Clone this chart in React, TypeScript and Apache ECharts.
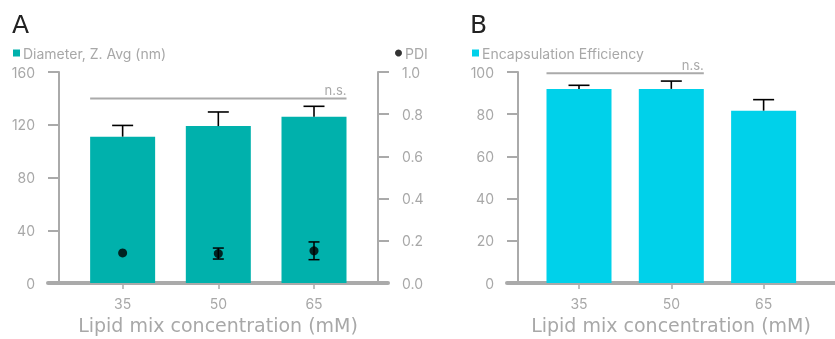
import React, { useEffect, useRef } from "react";
import * as echarts from "echarts";

const categories = [35, 50, 65];
const diameter = [111, 119, 126];
const diameterErr = [8.5, 10.7, 8];
const pdi = [0.143, 0.14, 0.153];
const pdiErr = [0.004, 0.026, 0.042];
const encapsulation = [92, 92, 81.7];
const encapsulationErr = [1.7, 3.7, 5.2];
const leftTicksA = [0, 40, 80, 120, 160];
const rightTicksA = [0, 0.2, 0.4, 0.6, 0.8, 1.0];
const ticksB = [0, 20, 40, 60, 80, 100];

const TEAL = "#00B1AC";
const CYAN = "#00D1EA";
const GRAY = "#aaaaaa";
const LABEL = "#a8a8a8";
const FONT = "Inter";
const WIDE = "DejaVu Sans";
const BAR_W = 65;

export default function App() {
  const ref = useRef<HTMLDivElement>(null);
  useEffect(() => {
    const chart = echarts.init(ref.current!, null, { renderer: "svg" });

    const upperErr = (cap: number, lw: number) => (params: any, api: any) => {
      const x = api.value(0), y = api.value(1), e = api.value(2);
      const p0 = api.coord([x, y]);
      const p1 = api.coord([x, y + e]);
      return {
        type: "group",
        children: [
          { type: "line", shape: { x1: p0[0], y1: p0[1], x2: p1[0], y2: p1[1] }, style: { stroke: "#000", lineWidth: lw } },
          { type: "line", shape: { x1: p1[0] - cap / 2, y1: p1[1], x2: p1[0] + cap / 2, y2: p1[1] }, style: { stroke: "#000", lineWidth: lw } },
        ],
      };
    };
    const bothErr = (cap: number, lw: number, hideBelow: number) => (params: any, api: any) => {
      const x = api.value(0), y = api.value(1), e = api.value(2);
      const p0 = api.coord([x, y - e]);
      const p1 = api.coord([x, y + e]);
      if (Math.abs(p0[1] - p1[1]) / 2 < hideBelow) return { type: "group", children: [] };
      return {
        type: "group",
        children: [
          { type: "line", shape: { x1: p0[0], y1: p0[1], x2: p1[0], y2: p1[1] }, style: { stroke: "#000", lineWidth: lw } },
          { type: "line", shape: { x1: p1[0] - cap / 2, y1: p1[1], x2: p1[0] + cap / 2, y2: p1[1] }, style: { stroke: "#000", lineWidth: lw } },
          { type: "line", shape: { x1: p0[0] - cap / 2, y1: p0[1], x2: p0[0] + cap / 2, y2: p0[1] }, style: { stroke: "#000", lineWidth: lw } },
        ],
      };
    };
    const bracket = (params: any, api: any) => {
      const x1 = api.value(0), x2 = api.value(1), y = api.value(2);
      const a = api.coord([x1, y]);
      const b = api.coord([x2, y]);
      const left = a[0] - BAR_W / 2;
      const right = b[0] + BAR_W / 2;
      return {
        type: "group",
        children: [
          { type: "line", shape: { x1: left, y1: a[1], x2: right, y2: a[1] }, style: { stroke: GRAY, lineWidth: 2 } },
          {
            type: "text",
            x: right,
            y: a[1] - 2,
            style: { text: "n.s.", fill: LABEL, font: `13px ${FONT}`, align: "right", verticalAlign: "bottom" },
          },
        ],
      };
    };

    const xAxisBase = (gridIndex: number) => ({
      type: "value",
      gridIndex,
      min: 23.3,
      max: 76.6,
      name: "Lipid mix concentration (mM)",
      nameLocation: "middle",
      nameGap: 31,
      nameTextStyle: { color: LABEL, fontSize: 19, fontFamily: WIDE },
      axisLine: { show: true, lineStyle: { color: GRAY, width: 4 } },
      axisTick: { show: true, customValues: categories, length: 6, lineStyle: { color: GRAY, width: 1.5 } },
      axisLabel: { customValues: categories, color: LABEL, fontSize: 14, margin: 13, fontFamily: FONT },
      splitLine: { show: false },
    });
    const yAxisBase = (gridIndex: number, position: string, offset: number, ticks: number[], fmt?: (v: number) => string) => ({
      type: "value",
      gridIndex,
      position,
      offset,
      min: ticks[0],
      max: ticks[ticks.length - 1],
      interval: ticks[1] - ticks[0],
      axisLine: { show: true, lineStyle: { color: GRAY, width: 2 } },
      axisTick: { show: true, length: 11, lineStyle: { color: GRAY, width: 2 } },
      axisLabel: { color: LABEL, fontSize: 14, margin: 24, fontFamily: FONT, formatter: fmt },
      splitLine: { show: false },
    });

    chart.setOption({
      animation: false,
      textStyle: { fontFamily: FONT },
      title: [
        { text: "A", left: 7, top: 7, textStyle: { fontSize: 25, fontWeight: "normal", color: "#222", fontFamily: WIDE } },
        { text: "B", left: 465, top: 7, textStyle: { fontSize: 25, fontWeight: "normal", color: "#222", fontFamily: WIDE } },
      ],
      legend: [
        {
          left: 8, top: 41, itemWidth: 7, itemHeight: 7, selectedMode: false,
          data: [{ name: "Diameter, Z. Avg (nm)", icon: "rect" }],
          textStyle: { color: LABEL, fontSize: 14, fontFamily: FONT, padding: [0, 0, 0, -2] },
        },
        {
          left: 390, top: 41, itemWidth: 7, itemHeight: 7, selectedMode: false,
          data: [{ name: "PDI", icon: "circle" }],
          textStyle: { color: LABEL, fontSize: 14, fontFamily: FONT, padding: [0, 0, 0, -2] },
        },
        {
          left: 467, top: 41, itemWidth: 7, itemHeight: 7, selectedMode: false,
          data: [{ name: "Encapsulation Efficiency", icon: "rect" }],
          textStyle: { color: LABEL, fontSize: 14, fontFamily: FONT, padding: [0, 0, 0, -2] },
        },
      ],
      grid: [
        { left: 48, top: 72, width: 340, height: 214 },
        { left: 507, top: 72, width: 340, height: 214 },
      ],
      xAxis: [xAxisBase(0), xAxisBase(1)],
      yAxis: [
        yAxisBase(0, "left", -11, leftTicksA),
        yAxisBase(0, "right", -10, rightTicksA, (v: number) => v.toFixed(1)),
        yAxisBase(1, "left", -11, ticksB),
      ],
      series: [
        {
          name: "Diameter, Z. Avg (nm)",
          type: "bar",
          xAxisIndex: 0,
          yAxisIndex: 0,
          barWidth: BAR_W,
          itemStyle: { color: TEAL },
          data: categories.map((c, i) => [c, diameter[i]]),
        },
        {
          name: "diamErr",
          type: "custom",
          xAxisIndex: 0,
          yAxisIndex: 0,
          renderItem: upperErr(21, 1.6),
          encode: { x: 0, y: 1 },
          data: categories.map((c, i) => [c, diameter[i], diameterErr[i]]),
          z: 3,
        },
        {
          name: "pdiErr",
          type: "custom",
          xAxisIndex: 0,
          yAxisIndex: 1,
          renderItem: bothErr(11, 1.5, 4.5),
          encode: { x: 0, y: 1 },
          data: categories.map((c, i) => [c, pdi[i], pdiErr[i]]),
          z: 4,
        },
        {
          name: "PDI",
          type: "scatter",
          xAxisIndex: 0,
          yAxisIndex: 1,
          symbol: "circle",
          symbolSize: 9,
          itemStyle: { color: "#000" },
          data: categories.map((c, i) => [c, pdi[i]]),
          z: 5,
        },
        {
          name: "bracketA",
          type: "custom",
          xAxisIndex: 0,
          yAxisIndex: 0,
          renderItem: bracket,
          encode: { x: 0, y: 2 },
          data: [[35, 65, 140]],
          z: 3,
        },
        {
          name: "Encapsulation Efficiency",
          type: "bar",
          xAxisIndex: 1,
          yAxisIndex: 2,
          barWidth: BAR_W,
          itemStyle: { color: CYAN },
          data: categories.map((c, i) => [c, encapsulation[i]]),
        },
        {
          name: "encErr",
          type: "custom",
          xAxisIndex: 1,
          yAxisIndex: 2,
          renderItem: upperErr(21, 1.6),
          encode: { x: 0, y: 1 },
          data: categories.map((c, i) => [c, encapsulation[i], encapsulationErr[i]]),
          z: 3,
        },
        {
          name: "bracketB",
          type: "custom",
          xAxisIndex: 1,
          yAxisIndex: 2,
          renderItem: bracket,
          encode: { x: 0, y: 2 },
          data: [[35, 50, 99.4]],
          z: 3,
        },
      ],
    });
    return () => chart.dispose();
  }, []);
  return <div ref={ref} style={{ position: "fixed", left: 0, top: 0, width: 835, height: 339 }} />;
}
